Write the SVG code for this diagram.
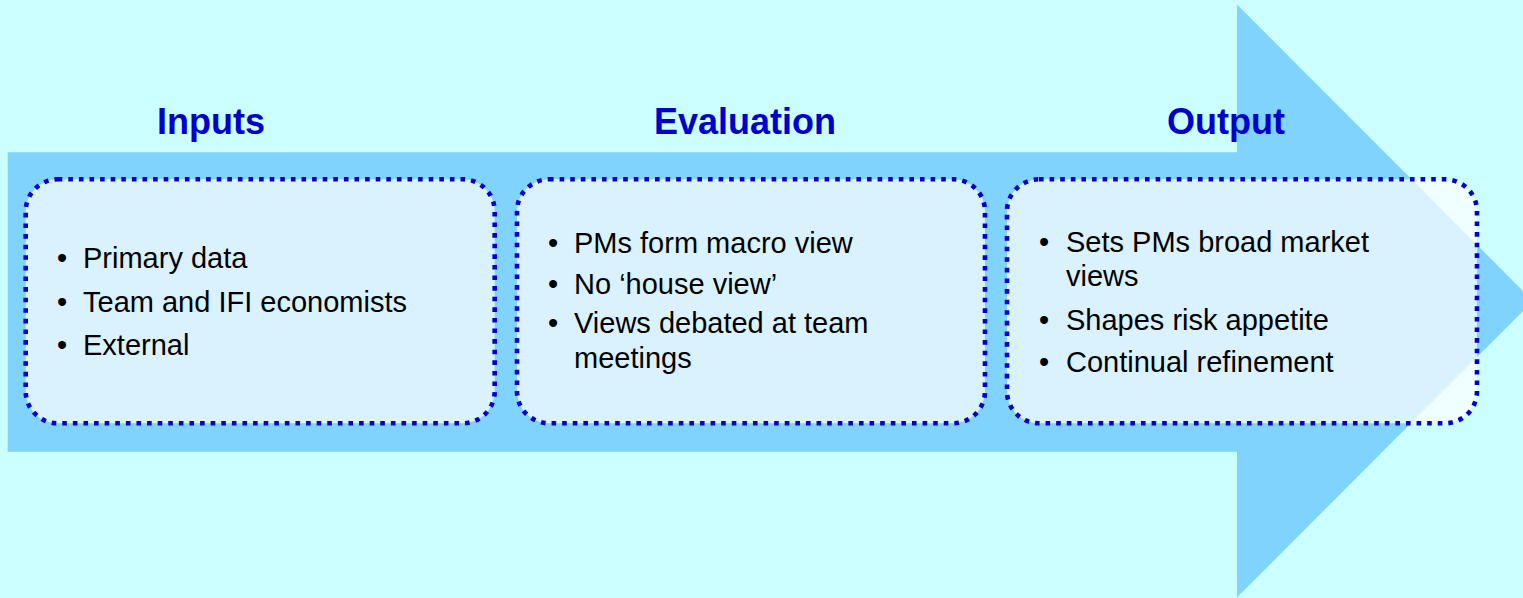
<svg xmlns="http://www.w3.org/2000/svg" width="1523" height="598" viewBox="0 0 1523 598">
  <style>
    .title { font-family: "Liberation Sans", Arial, sans-serif; font-weight: bold; font-size: 36px; fill: #0000CC; text-anchor: middle; }
    .body { font-family: "Liberation Sans", Arial, sans-serif; font-size: 29px; fill: #000000; }
    .box { fill: #FFFFFF; fill-opacity: 0.7; stroke: #0000CC; stroke-width: 4.6; stroke-dasharray: 4.6 6; }
  </style>
  <rect x="0" y="0" width="1523" height="598" fill="#CCFFFF"/>
  <g id="arrow">
    <polygon points="7.7,152.3 1237,152.3 1237,4.5 1533,301 1237,597.5 1237,451.7 7.7,451.7" fill="#80D3FC"/>
  </g>
  <g id="titles">
    <text class="title" x="211" y="134">Inputs</text>
    <text class="title" x="745" y="134">Evaluation</text>
    <text class="title" x="1226" y="134">Output</text>
  </g>
  <g id="connectors"></g>
  <g id="inputs">
    <rect class="box" x="25.7" y="179.3" width="469" height="244" rx="32" ry="32"/>
    <text class="body" x="57" y="268">•</text>
    <text class="body" x="83" y="268">Primary data</text>
    <text class="body" x="57" y="312">•</text>
    <text class="body" x="83" y="312">Team and IFI economists</text>
    <text class="body" x="57" y="355">•</text>
    <text class="body" x="83" y="355">External</text>
  </g>
  <g id="evaluation">
    <rect class="box" x="517" y="179.3" width="468" height="244" rx="32" ry="32"/>
    <text class="body" x="548" y="253">•</text>
    <text class="body" x="574" y="253">PMs form macro view</text>
    <text class="body" x="548" y="293.5">•</text>
    <text class="body" x="574" y="293.5">No ‘house view’</text>
    <text class="body" x="548" y="333">•</text>
    <text class="body" x="574" y="333">Views debated at team</text>
    <text class="body" x="574" y="368">meetings</text>
  </g>
  <g id="output">
    <rect class="box" x="1007" y="179.3" width="470" height="244" rx="32" ry="32"/>
    <text class="body" x="1039" y="251.5">•</text>
    <text class="body" x="1066" y="251.5">Sets PMs broad market</text>
    <text class="body" x="1066" y="285.5">views</text>
    <text class="body" x="1039" y="330">•</text>
    <text class="body" x="1066" y="330">Shapes risk appetite</text>
    <text class="body" x="1039" y="371.5">•</text>
    <text class="body" x="1066" y="371.5">Continual refinement</text>
  </g>
</svg>
